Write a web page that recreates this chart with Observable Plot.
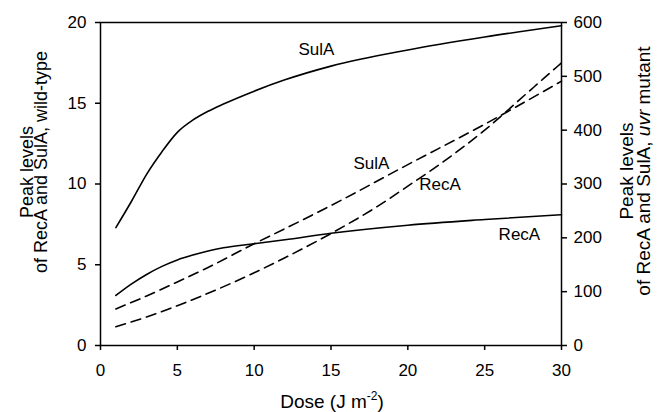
<!DOCTYPE html>
<html><head><meta charset="utf-8">
<script src="https://cdn.jsdelivr.net/npm/d3@7"></script>
<script src="https://cdn.jsdelivr.net/npm/@observablehq/plot@0.6"></script>
<style>body{margin:0;background:#fff}#chart svg{display:block}</style>
</head><body><div id="chart"></div>
<script>
// Wild-type (left axis, 0-20)
const wtDose = [1, 2, 3, 4, 5, 6, 7, 8, 10, 12, 15, 20, 25, 30];
const sulaWT = [7.3, 8.9, 10.6, 12.0, 13.2, 13.95, 14.5, 14.95, 15.75, 16.45, 17.3, 18.3, 19.1, 19.8];
const recaWT = [3.1, 3.8, 4.4, 4.9, 5.3, 5.6, 5.85, 6.05, 6.3, 6.55, 6.95, 7.45, 7.8, 8.1];
// uvr mutant (right axis, 0-600)
const sulaUvrDose = [1, 3, 5, 7, 10, 12, 15, 20, 25, 30];
const sulaUvr = [68, 92, 118, 145, 189, 217, 260, 336, 411, 491];
const recaUvrDose = [1, 3, 5, 7, 10, 12, 15, 18, 20, 22, 25, 28, 30];
const recaUvr = [35, 53, 74, 97, 135, 163, 208, 258, 296, 335, 400, 475, 525];
// ticks
const xTicks = [0, 5, 10, 15, 20, 25, 30];
const leftTicks = [0, 5, 10, 15, 20];
const rightTicks = [0, 100, 200, 300, 400, 500, 600];
const ratio = 600 / 20;
// curve labels
const labelText = ["SulA", "SulA", "RecA", "RecA"];
const labelX = [14.05, 17.63, 22.1, 27.26];
const labelY = [18.3, 11.28, 9.97, 6.85];

const wtRows = [
  ...wtDose.map((d, i) => ({dose: d, value: sulaWT[i], series: "SulA wt"})),
  ...wtDose.map((d, i) => ({dose: d, value: recaWT[i], series: "RecA wt"}))
];
const uvrRows = [
  ...sulaUvrDose.map((d, i) => ({dose: d, value: sulaUvr[i], series: "SulA uvr"})),
  ...recaUvrDose.map((d, i) => ({dose: d, value: recaUvr[i], series: "RecA uvr"}))
];
const labels = labelText.map((t, i) => ({text: t, x: labelX[i], y: labelY[i]}));

const ink = "#000";
const plot = Plot.plot({
  width: 660, height: 412,
  marginLeft: 100, marginRight: 99, marginTop: 22, marginBottom: 67,
  style: {fontFamily: "'Liberation Sans', Arial, sans-serif", fontSize: "17px", background: "#fff", color: ink},
  x: {domain: [0, 30]},
  y: {domain: [0, 20]},
  marks: [
    Plot.frame({stroke: ink, strokeWidth: 1.5}),
    Plot.axisX({ticks: xTicks, tickSize: 5, tickPadding: 13, label: null, strokeWidth: 1.5, fontSize: 17}),
    Plot.axisY({ticks: leftTicks, tickSize: 5, tickPadding: 9, label: null, strokeWidth: 1.5, fontSize: 17}),
    Plot.axisY({anchor: "right", ticks: rightTicks.map(v => v / ratio), tickFormat: v => String(Math.round(v * ratio)), tickSize: 5, tickPadding: 7, label: null, strokeWidth: 1.5, fontSize: 17}),
    Plot.line(wtRows, {x: "dose", y: "value", z: "series", curve: "monotone-x", stroke: ink, strokeWidth: 1.6}),
    Plot.line(uvrRows, {x: "dose", y: d => d.value / ratio, z: "series", curve: "monotone-x", stroke: ink, strokeWidth: 1.6, strokeDasharray: "10,6"}),
    Plot.text(labels, {x: "x", y: "y", text: "text", fontSize: 17})
  ]
});
document.getElementById("chart").appendChild(plot);

const svg = d3.select(plot);
const ff = "'Liberation Sans', Arial, sans-serif";
function vlabel(x, y, size) {
  return svg.append("text")
    .attr("transform", `translate(${x},${y}) rotate(-90)`)
    .attr("text-anchor", "middle")
    .attr("font-family", ff).attr("font-size", size).attr("fill", ink);
}
vlabel(33, 172, 18).text("Peak levels");
vlabel(47, 162, 18).text("of RecA and SulA, wild-type");
vlabel(633, 171, 19).text("Peak levels");
const r2 = vlabel(650, 171, 19);
r2.append("tspan").text("of RecA and SulA, ");
r2.append("tspan").attr("font-style", "italic").text("uvr");
r2.append("tspan").text(" mutant");
const xl = svg.append("text")
  .attr("x", 332).attr("y", 408)
  .attr("text-anchor", "middle")
  .attr("font-family", ff).attr("font-size", 19).attr("fill", ink);
xl.append("tspan").text("Dose (J m");
xl.append("tspan").attr("font-size", 12).attr("dy", -8).text("-2");
xl.append("tspan").attr("dy", 8).text(")");
</script>
</body></html>
